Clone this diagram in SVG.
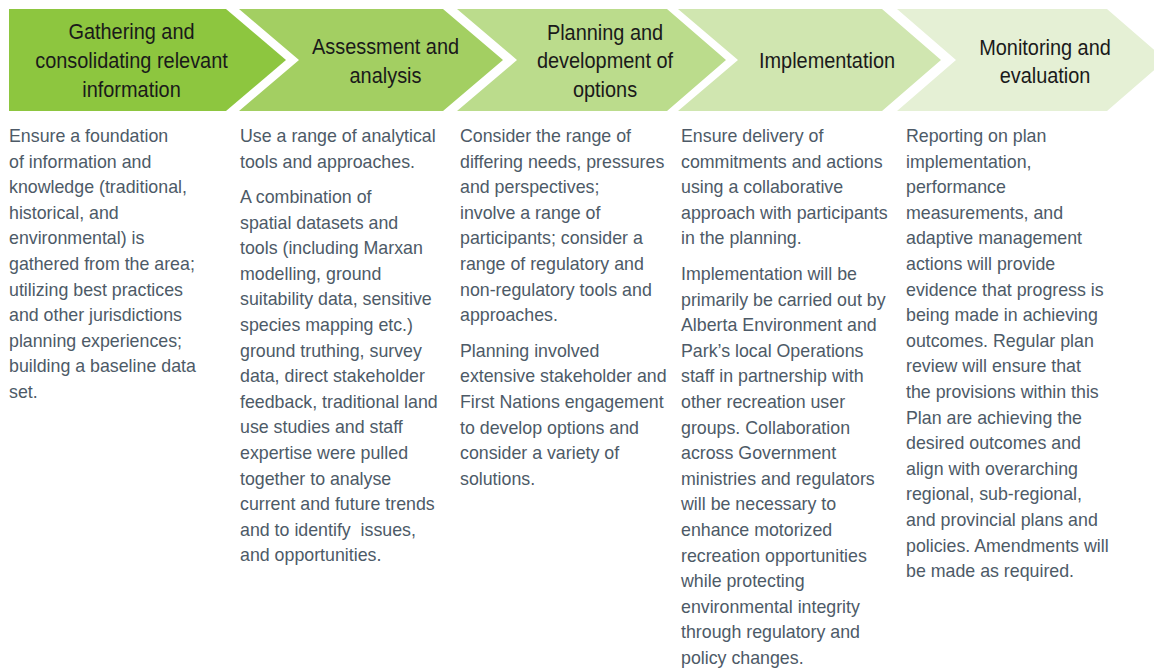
<svg xmlns="http://www.w3.org/2000/svg" width="1154" height="668" viewBox="0 0 1154 668">
<style>
.hd{font-family:"Liberation Sans",Arial,sans-serif;font-size:22px;fill:#1a1a1a;text-anchor:middle}
.bd{font-family:"Liberation Sans",Arial,sans-serif;font-size:17.8px;fill:#4d5a67}
</style>
<rect width="1154" height="668" fill="#ffffff"/>
<g id="step1">
<path d="M9,9 H226 L286,60 L226,111 H9 Z" fill="#8dc63f"/>
<text class="hd" transform="translate(131.5,0) scale(0.905,1)"><tspan x="0" y="39.5">Gathering and</tspan><tspan x="0" y="68.5">consolidating relevant</tspan><tspan x="0" y="97.5">information</tspan></text>
<text class="bd"><tspan x="9" y="142">Ensure a foundation</tspan><tspan x="9" y="167.6">of information and</tspan><tspan x="9" y="193.2">knowledge (traditional,</tspan><tspan x="9" y="218.8">historical, and</tspan><tspan x="9" y="244.4">environmental) is</tspan><tspan x="9" y="270">gathered from the area;</tspan><tspan x="9" y="295.6">utilizing best practices</tspan><tspan x="9" y="321.2">and other jurisdictions</tspan><tspan x="9" y="346.8">planning experiences;</tspan><tspan x="9" y="372.4">building a baseline data</tspan><tspan x="9" y="398">set.</tspan></text>
</g>
<g id="step2">
<path d="M239,9 H443 L503,60 L443,111 H239 L299,60 Z" fill="#a3cf62"/>
<text class="hd" transform="translate(385.5,0) scale(0.905,1)"><tspan x="0" y="54.5">Assessment and</tspan><tspan x="0" y="83">analysis</tspan></text>
<text class="bd"><tspan x="240" y="142">Use a range of analytical</tspan><tspan x="240" y="167.6">tools and approaches.</tspan><tspan x="240" y="203">A combination of</tspan><tspan x="240" y="228.6">spatial datasets and</tspan><tspan x="240" y="254.2">tools (including Marxan</tspan><tspan x="240" y="279.8">modelling, ground</tspan><tspan x="240" y="305.4">suitability data, sensitive</tspan><tspan x="240" y="331">species mapping etc.)</tspan><tspan x="240" y="356.6">ground truthing, survey</tspan><tspan x="240" y="382.2">data, direct stakeholder</tspan><tspan x="240" y="407.8">feedback, traditional land</tspan><tspan x="240" y="433.4">use studies and staff</tspan><tspan x="240" y="459">expertise were pulled</tspan><tspan x="240" y="484.6">together to analyse</tspan><tspan x="240" y="510.2">current and future trends</tspan><tspan x="240" y="535.8" xml:space="preserve">and to identify  issues,</tspan><tspan x="240" y="561.4">and opportunities.</tspan></text>
</g>
<g id="step3">
<path d="M457,9 H667 L726,60 L667,111 H457 L517,60 Z" fill="#bbdc8c"/>
<text class="hd" transform="translate(605,0) scale(0.905,1)"><tspan x="0" y="40">Planning and</tspan><tspan x="0" y="68.5">development of</tspan><tspan x="0" y="97">options</tspan></text>
<text class="bd"><tspan x="460" y="142">Consider the range of</tspan><tspan x="460" y="167.6">differing needs, pressures</tspan><tspan x="460" y="193.2">and perspectives;</tspan><tspan x="460" y="218.8">involve a range of</tspan><tspan x="460" y="244.4">participants; consider a</tspan><tspan x="460" y="270">range of regulatory and</tspan><tspan x="460" y="295.6">non-regulatory tools and</tspan><tspan x="460" y="321.2">approaches.</tspan><tspan x="460" y="356.8">Planning involved</tspan><tspan x="460" y="382.4">extensive stakeholder and</tspan><tspan x="460" y="408">First Nations engagement</tspan><tspan x="460" y="433.6">to develop options and</tspan><tspan x="460" y="459.2">consider a variety of</tspan><tspan x="460" y="484.8">solutions.</tspan></text>
</g>
<g id="step4">
<path d="M678,9 H882 L941,60 L882,111 H678 L738,60 Z" fill="#d0e6b0"/>
<text class="hd" transform="translate(827,0) scale(0.905,1)"><tspan x="0" y="68.5">Implementation</tspan></text>
<text class="bd"><tspan x="681" y="142">Ensure delivery of</tspan><tspan x="681" y="167.6">commitments and actions</tspan><tspan x="681" y="193.2">using a collaborative</tspan><tspan x="681" y="218.8">approach with participants</tspan><tspan x="681" y="244.4">in the planning.</tspan><tspan x="681" y="280">Implementation will be</tspan><tspan x="681" y="305.6">primarily be carried out by</tspan><tspan x="681" y="331.2">Alberta Environment and</tspan><tspan x="681" y="356.8">Park’s local Operations</tspan><tspan x="681" y="382.4">staff in partnership with</tspan><tspan x="681" y="408">other recreation user</tspan><tspan x="681" y="433.6">groups. Collaboration</tspan><tspan x="681" y="459.2">across Government</tspan><tspan x="681" y="484.8">ministries and regulators</tspan><tspan x="681" y="510.4">will be necessary to</tspan><tspan x="681" y="536">enhance motorized</tspan><tspan x="681" y="561.6">recreation opportunities</tspan><tspan x="681" y="587.2">while protecting</tspan><tspan x="681" y="612.8">environmental integrity</tspan><tspan x="681" y="638.4">through regulatory and</tspan><tspan x="681" y="664">policy changes.</tspan></text>
</g>
<g id="step5">
<path d="M897,9 H1107 L1166,60 L1107,111 H897 L956,60 Z" fill="#e5f0d5"/>
<text class="hd" transform="translate(1045,0) scale(0.905,1)"><tspan x="0" y="55">Monitoring and</tspan><tspan x="0" y="83">evaluation</tspan></text>
<text class="bd"><tspan x="906" y="142">Reporting on plan</tspan><tspan x="906" y="167.6">implementation,</tspan><tspan x="906" y="193.2">performance</tspan><tspan x="906" y="218.8">measurements, and</tspan><tspan x="906" y="244.4">adaptive management</tspan><tspan x="906" y="270">actions will provide</tspan><tspan x="906" y="295.6">evidence that progress is</tspan><tspan x="906" y="321.2">being made in achieving</tspan><tspan x="906" y="346.8">outcomes. Regular plan</tspan><tspan x="906" y="372.4">review will ensure that</tspan><tspan x="906" y="398">the provisions within this</tspan><tspan x="906" y="423.6">Plan are achieving the</tspan><tspan x="906" y="449.2">desired outcomes and</tspan><tspan x="906" y="474.8">align with overarching</tspan><tspan x="906" y="500.4">regional, sub-regional,</tspan><tspan x="906" y="526">and provincial plans and</tspan><tspan x="906" y="551.6">policies. Amendments will</tspan><tspan x="906" y="577.2">be made as required.</tspan></text>
</g>
<g id="connectors"></g>
</svg>
